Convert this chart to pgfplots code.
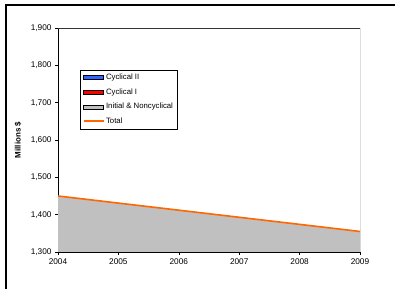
\documentclass[border=0pt]{standalone}
\usepackage{pgfplots}
\pgfplotsset{compat=1.18}
\usepackage{fontspec}
\setmainfont{Liberation Sans}
\definecolor{cblue}{RGB}{51,102,255}
\definecolor{cred}{RGB}{255,0,0}
\definecolor{cgray}{RGB}{192,192,192}
\definecolor{corange}{RGB}{255,102,0}
\begin{document}
\begin{tikzpicture}[x=1bp,y=1bp]
\useasboundingbox (0,0) rectangle (395,289);
\draw[black, line width=1.2bp] (6,0) -- (6,284) -- (395,284);
\begin{axis}[
  at={(58bp,37bp)}, anchor=origin,
  scale only axis, width=302bp, height=224bp,
  xmin=2004, xmax=2009, ymin=1300, ymax=1900,
  xtick={2004,2005,2006,2007,2008,2009},
  ytick={1300,1400,1500,1600,1700,1800,1900},
  xticklabel style={/pgf/number format/.cd,1000 sep={}},
  yticklabel style={/pgf/number format/.cd,1000 sep={,}},
  /pgf/number format/assume math mode=true,
  tick label style={font=\fontsize{8.3}{9}\selectfont, black},
  axis lines*=left,
  axis line style={black, line width=0.8bp, -},
  tick align=outside, major tick length=3bp,
  tick style={black, line width=0.6bp},
  ylabel={\textbf{Millions \$}},
  every axis y label/.style={at={(axis description cs:-0.1325,0.5)}, rotate=90, anchor=center, font=\fontsize{8}{9}\selectfont},
  clip=true,
  legend style={at={(0.073,0.8125)}, anchor=north west, draw=black, fill=white,
    font=\fontsize{7.8}{8.5}\selectfont, row sep=4.6bp, inner sep=2.5bp, line width=0.6bp,
    nodes={inner sep=1.4bp}},
  legend cell align=left,
]
\addlegendimage{legend image code/.code={\draw[fill=cblue, draw=black, line width=0.6bp] (0,-2bp) rectangle (20bp,2bp);}}
\addlegendentry{Cyclical II}
\addlegendimage{legend image code/.code={\draw[fill=cred, draw=black, line width=0.6bp] (0,-2bp) rectangle (20bp,2bp);}}
\addlegendentry{Cyclical I}
\addlegendimage{legend image code/.code={\draw[fill=cgray, draw=black, line width=0.6bp] (0,-2bp) rectangle (20bp,2bp);}}
\addlegendentry{Initial \& Noncyclical}
\addlegendimage{legend image code/.code={\draw[draw=corange, line width=1.8bp] (0,0) -- (20bp,0);}}
\addlegendentry{Total}
\addplot[fill=cgray, draw=none, forget plot] coordinates {
(2004,1450) (2005,1431) (2006,1412) (2007,1393) (2008,1374) (2009,1355)
} \closedcycle;
\addplot[corange, line width=1.6bp, forget plot] coordinates {
(2004,1450) (2005,1431) (2006,1412) (2007,1393) (2008,1374) (2009,1355)
};
\draw[gray!60, line width=1.2bp] ([xshift=1bp]rel axis cs:0,1) -- ([xshift=1bp]rel axis cs:1,1) -- ([xshift=1bp]rel axis cs:1,0);
\draw[black!80, line width=0.8bp] (rel axis cs:0,1) -- (rel axis cs:1,1) -- (rel axis cs:1,0);
\draw[black, line width=0.8bp] (rel axis cs:0,0) -- (rel axis cs:1,0);
\end{axis}
\end{tikzpicture}
\end{document}
